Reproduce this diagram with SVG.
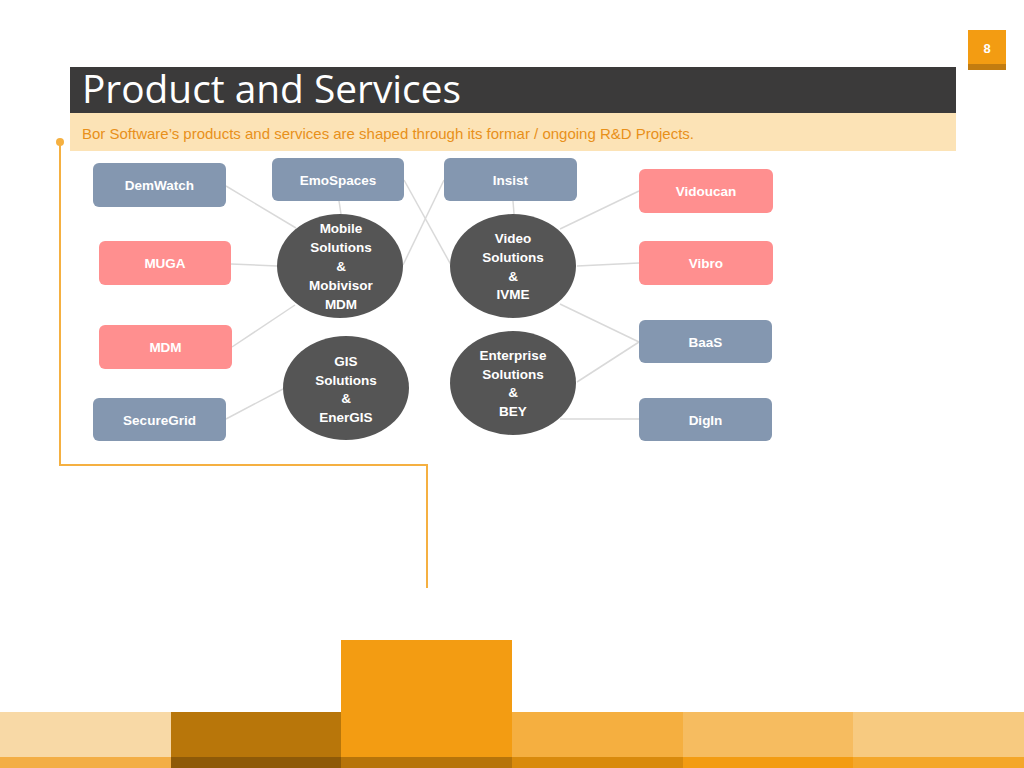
<svg xmlns="http://www.w3.org/2000/svg" width="1024" height="768" viewBox="0 0 1024 768">
<style>
.rb{fill:#8497B0}
.rp{fill:#FF8F8F}
.el{fill:#555555}
.t{font-family:"Liberation Sans",Arial,sans-serif;font-weight:bold;font-size:13.5px;fill:#fff;text-anchor:middle}
.c{stroke:#D9D9D9;stroke-width:1.5;fill:none}
</style>
<rect width="1024" height="768" fill="#fff"/>
<!-- page number -->
<rect x="968" y="30" width="38" height="40" fill="#F39C12"/>
<rect x="968" y="64" width="38" height="6" fill="#C27C10"/>
<text x="987" y="53" font-family="Liberation Sans,Arial,sans-serif" font-size="13" font-weight="bold" fill="#fff" text-anchor="middle">8</text>
<!-- title -->
<rect x="70" y="67" width="886" height="46" fill="#3B3A3A"/>
<text x="82" y="103" font-family="Open Sans,Liberation Sans,sans-serif" font-size="38" fill="#fff" textLength="379" lengthAdjust="spacingAndGlyphs">Product and Services</text>
<rect x="70" y="113" width="886" height="38" fill="#FCE3B6"/>
<text x="82" y="139" font-family="Liberation Sans,Arial,sans-serif" font-size="15" fill="#E8901A" textLength="612" lengthAdjust="spacingAndGlyphs">Bor Software’s products and services are shaped through its formar / ongoing R&amp;D Projects.</text>
<!-- orange guide line -->
<polyline points="60,142 60,465 427,465 427,588" fill="none" stroke="#F5B041" stroke-width="2"/>
<circle cx="60" cy="142" r="4" fill="#F5B041"/>
<!-- connectors -->
<g id="connectors">
<line class="c" x1="226" y1="186" x2="296" y2="228"/>
<line class="c" x1="339" y1="201" x2="341" y2="214"/>
<line class="c" x1="404" y1="180" x2="451" y2="265"/>
<line class="c" x1="444" y1="180" x2="403" y2="265"/>
<line class="c" x1="513" y1="201" x2="514" y2="214"/>
<line class="c" x1="231" y1="264" x2="277" y2="266"/>
<line class="c" x1="232" y1="347" x2="295" y2="305"/>
<line class="c" x1="226" y1="419" x2="283" y2="389"/>
<line class="c" x1="639" y1="191" x2="560" y2="229"/>
<line class="c" x1="639" y1="263" x2="577" y2="266"/>
<line class="c" x1="639" y1="342" x2="560" y2="304"/>
<line class="c" x1="639" y1="342" x2="577" y2="382"/>
<line class="c" x1="639" y1="419" x2="560" y2="419"/>
</g>
<!-- nodes -->
<g id="demwatch"><rect class="rb" x="93" y="163" width="133" height="44" rx="6"/><text class="t" x="159.5" y="190">DemWatch</text></g>
<g id="emospaces"><rect class="rb" x="272" y="158" width="132" height="43" rx="6"/><text class="t" x="338" y="185">EmoSpaces</text></g>
<g id="insist"><rect class="rb" x="444" y="158" width="133" height="43" rx="6"/><text class="t" x="510.5" y="185">Insist</text></g>
<g id="vidoucan"><rect class="rp" x="639" y="169" width="134" height="44" rx="6"/><text class="t" x="706" y="196">Vidoucan</text></g>
<g id="muga"><rect class="rp" x="99" y="241" width="132" height="44" rx="6"/><text class="t" x="165" y="268">MUGA</text></g>
<g id="vibro"><rect class="rp" x="639" y="241" width="134" height="44" rx="6"/><text class="t" x="706" y="268">Vibro</text></g>
<g id="mdm"><rect class="rp" x="99" y="325" width="133" height="44" rx="6"/><text class="t" x="165.5" y="352">MDM</text></g>
<g id="baas"><rect class="rb" x="639" y="320" width="133" height="43" rx="6"/><text class="t" x="705.5" y="347">BaaS</text></g>
<g id="securegrid"><rect class="rb" x="93" y="398" width="133" height="43" rx="6"/><text class="t" x="159.5" y="425">SecureGrid</text></g>
<g id="digin"><rect class="rb" x="639" y="398" width="133" height="43" rx="6"/><text class="t" x="705.5" y="425">DigIn</text></g>
<g id="mobile"><ellipse class="el" cx="340" cy="266" rx="63" ry="52"/>
<text class="t" x="341" y="233">Mobile</text><text class="t" x="341" y="252">Solutions</text><text class="t" x="341" y="271">&amp;</text><text class="t" x="341" y="290">Mobivisor</text><text class="t" x="341" y="309">MDM</text></g>
<g id="gis"><ellipse class="el" cx="346" cy="388" rx="63" ry="52"/>
<text class="t" x="346" y="366">GIS</text><text class="t" x="346" y="385">Solutions</text><text class="t" x="346" y="403">&amp;</text><text class="t" x="346" y="422">EnerGIS</text></g>
<g id="video"><ellipse class="el" cx="513" cy="266" rx="63" ry="52"/>
<text class="t" x="513" y="243">Video</text><text class="t" x="513" y="262">Solutions</text><text class="t" x="513" y="281">&amp;</text><text class="t" x="513" y="299">IVME</text></g>
<g id="enterprise"><ellipse class="el" cx="513" cy="383" rx="63" ry="52"/>
<text class="t" x="513" y="360">Enterprise</text><text class="t" x="513" y="379">Solutions</text><text class="t" x="513" y="397">&amp;</text><text class="t" x="513" y="416">BEY</text></g>
<!-- bottom bars -->
<rect x="0" y="712" width="171" height="45" fill="#F8D9A6"/>
<rect x="171" y="712" width="170" height="45" fill="#B8760A"/>
<rect x="341" y="640" width="171" height="117" fill="#F39C12"/>
<rect x="512" y="712" width="171" height="45" fill="#F5AF40"/>
<rect x="683" y="712" width="170" height="45" fill="#F6BC60"/>
<rect x="853" y="712" width="171" height="45" fill="#F7CA80"/>
<rect x="0" y="757" width="171" height="11" fill="#F3AE45"/>
<rect x="171" y="757" width="170" height="11" fill="#8E5A08"/>
<rect x="341" y="757" width="171" height="11" fill="#B7740A"/>
<rect x="512" y="757" width="171" height="11" fill="#D98A0C"/>
<rect x="683" y="757" width="170" height="11" fill="#F39C12"/>
<rect x="853" y="757" width="171" height="11" fill="#F4A72A"/>
</svg>
